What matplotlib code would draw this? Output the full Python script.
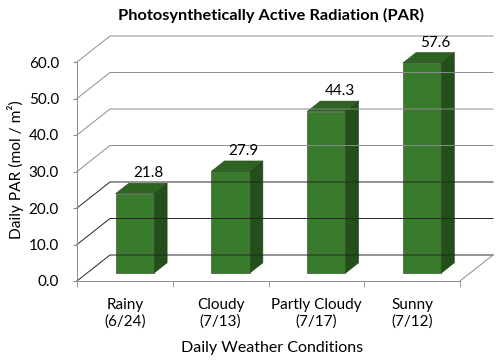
import matplotlib
matplotlib.use("Agg")
import matplotlib.pyplot as plt
from matplotlib.patches import Polygon
from matplotlib.transforms import IdentityTransform
import numpy as np

plt.rcParams['font.family'] = ['Lato', 'DejaVu Sans']

categories = ["Rainy\n(6/24)", "Cloudy\n(7/13)", "Partly Cloudy\n(7/17)", "Sunny\n(7/12)"]
values = [21.8, 27.9, 44.3, 57.6]
yticks = [0, 10, 20, 30, 40, 50, 60]
title = "Photosynthetically Active Radiation (PAR)"
ylabel = "Daily PAR (mol / m²)"
xlabel = "Daily Weather Conditions"

W, H = 500, 361
fig = plt.figure(figsize=(W/100, H/100), dpi=100)
ax = fig.add_axes([77/W, (H-281)/H, (460-77)/W, (281-62)/H])
ax.set_xlim(0, len(categories))
ax.set_ylim(0, 60)

# depth offset in pixels (full depth)
DX, DY = 33.0, 26.0
ident = IdentityTransform()

def P(x, y, d):
    px, py = ax.transData.transform((x, y))
    return (px + d*DX, py + d*DY)

# walls / gridlines
for v in yticks:
    col = '#262626' if v <= 20 else '#8c8c8c'
    a = P(0, v, 0); b = P(0, v, 1); c = P(len(categories), v, 1)
    ax.add_line(plt.Line2D([a[0], b[0], c[0]], [a[1], b[1], c[1]], color=col,
                           lw=0.7, transform=ident, clip_on=False))
# floor edges
a = P(len(categories), 0, 0); b = P(len(categories), 0, 1)
ax.add_line(plt.Line2D([a[0], b[0]], [a[1], b[1]], color='#8c8c8c', lw=0.7,
                       transform=ident, clip_on=False))

# bars
bw = 0.4
d0, d1 = 0.3, 0.7
front_c, side_c, top_c = '#3a7a2c', '#244f1a', '#2e6323'
for i, v in enumerate(values):
    x0, x1 = i + 0.5 - bw/2, i + 0.5 + bw/2
    side = [P(x1, 0, d0), P(x1, 0, d1), P(x1, v, d1), P(x1, v, d0)]
    top = [P(x0, v, d0), P(x1, v, d0), P(x1, v, d1), P(x0, v, d1)]
    front = [P(x0, 0, d0), P(x1, 0, d0), P(x1, v, d0), P(x0, v, d0)]
    for pts, c in ((side, side_c), (top, top_c), (front, front_c)):
        ax.add_patch(Polygon(pts, closed=True, facecolor=c, edgecolor='#24461b',
                             lw=0.4, transform=ident, clip_on=False))
    lx, ly = P(i + 0.5, v, d1)
    ax.text(lx, ly + 3, f"{v:.1f}", transform=ident, ha='center', va='bottom',
            fontsize=11, color='black')

# axes styling
for s in ['top', 'right']:
    ax.spines[s].set_visible(False)
ax.spines['left'].set_color('#8c8c8c')
ax.spines['bottom'].set_color('#8c8c8c')
ax.spines['left'].set_linewidth(0.7)
ax.spines['bottom'].set_linewidth(0.7)
ax.set_yticks(yticks)
ax.set_yticklabels([f"{t:.1f}" for t in yticks])
ax.tick_params(axis='y', length=3, color='#8c8c8c', pad=10, labelsize=11)
ax.set_xticks(np.arange(len(categories)) + 0.5)
ax.set_xticklabels(categories, linespacing=1.2)
ax.set_xticks(np.arange(len(categories) + 1), minor=True)
ax.tick_params(axis='x', which='major', length=0, pad=12, labelsize=11)
ax.tick_params(axis='x', which='minor', length=4, color='#8c8c8c')
ax.patch.set_visible(False)

fig.text(271/W, 1 - 15/H, title, ha='center', va='center', fontsize=11.8, fontweight='bold')
fig.text(16/W, 1 - 170/H, ylabel, ha='center', va='center', rotation=90, fontsize=11.2)
fig.text(272/W, 1 - 348/H, xlabel, ha='center', va='center', fontsize=11.5)

fig.savefig("out.png", dpi=100, facecolor='white')
